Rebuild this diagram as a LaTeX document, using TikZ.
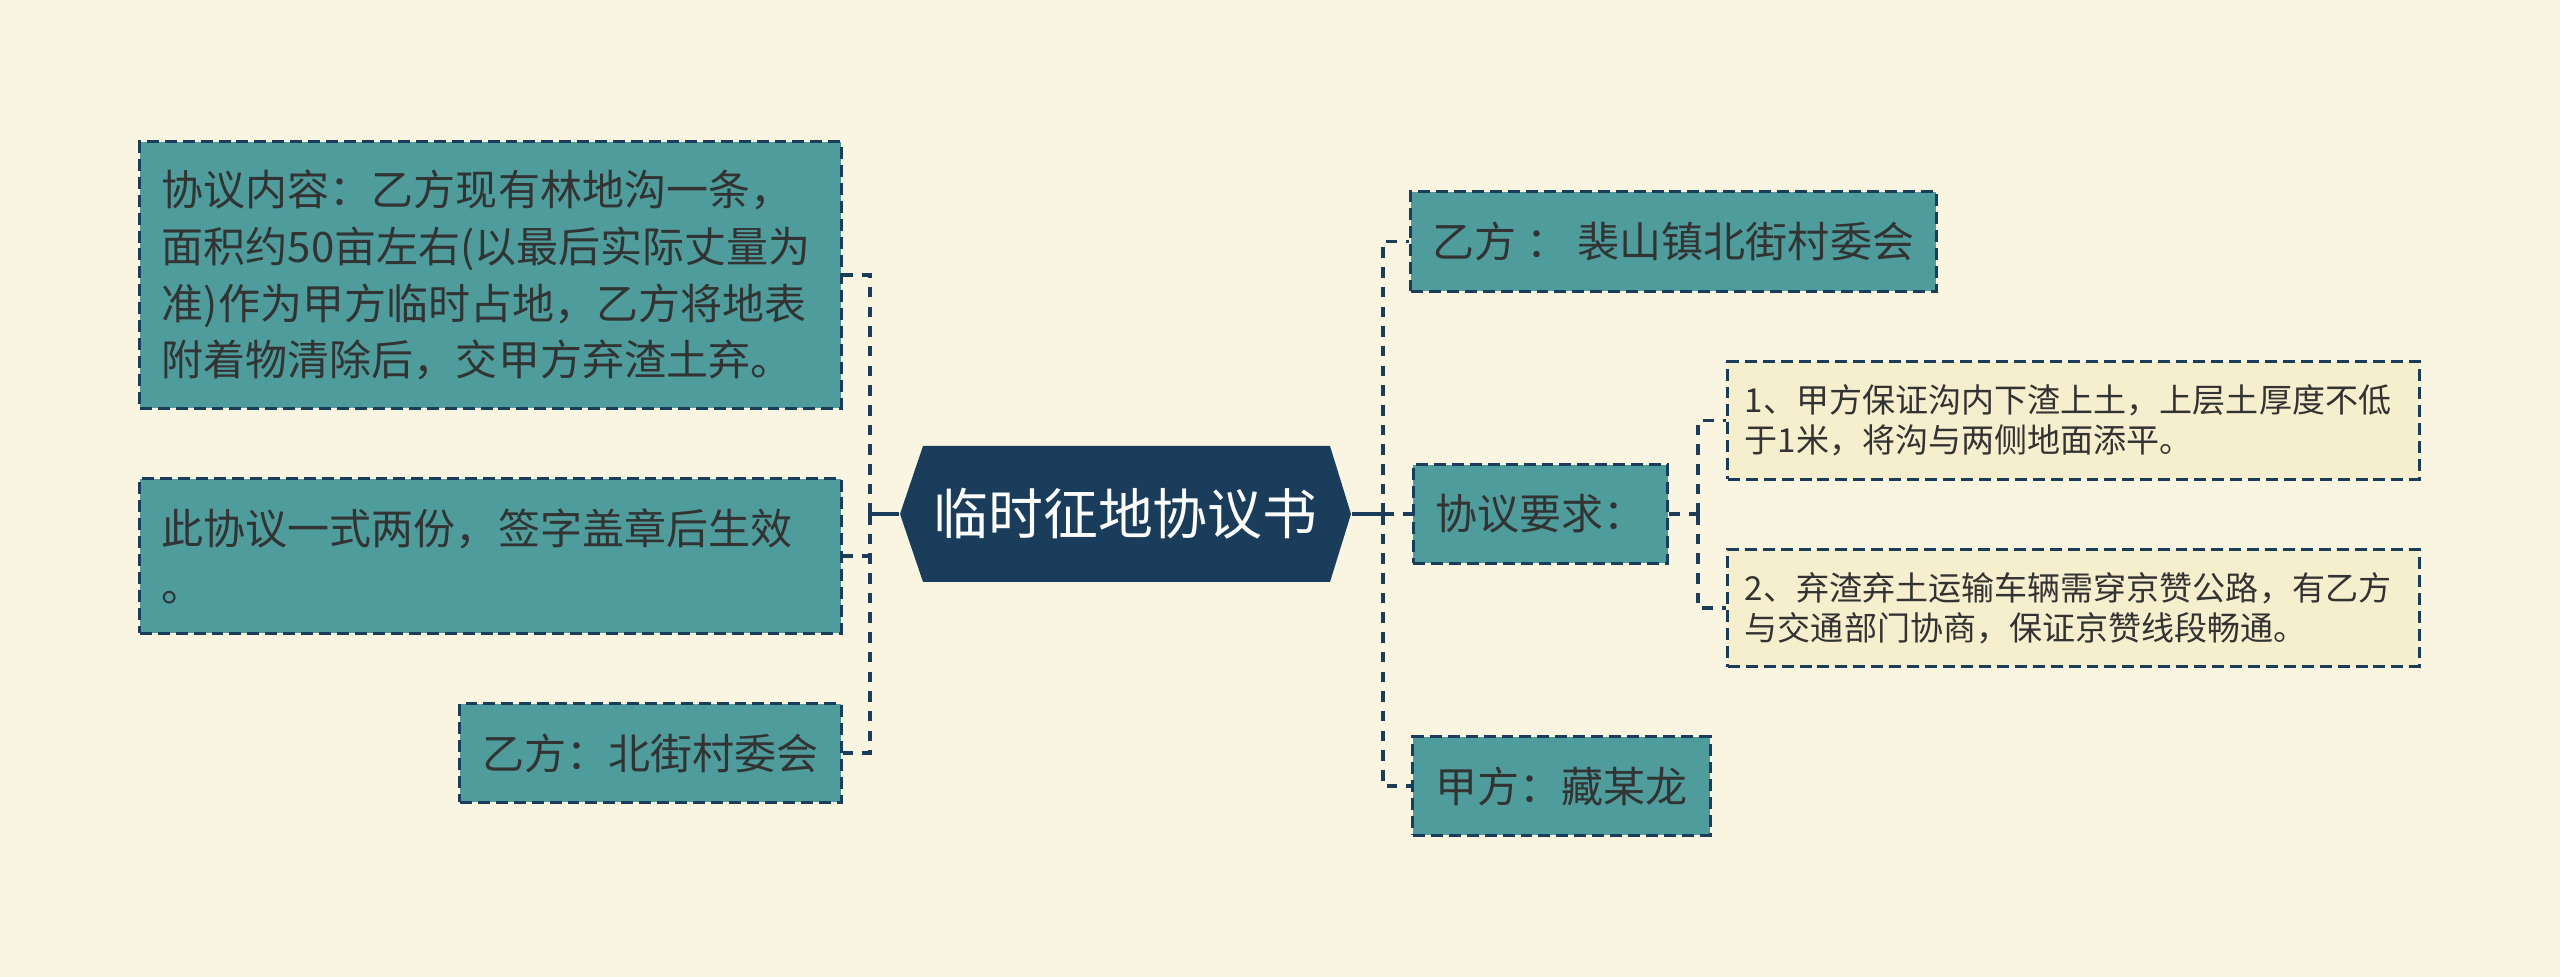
\documentclass[tikz,border=0pt]{standalone}
\usepackage{fontspec}
\setmainfont{Noto Sans CJK SC}
\usepackage{tikz}
\usepackage{xcolor}
\definecolor{bgcream}{HTML}{FAF5E0}
\definecolor{tealbox}{HTML}{4E9C9C}
\definecolor{navy}{HTML}{1B3D5C}
\definecolor{inkgray}{HTML}{333333}
\definecolor{paleleaf}{HTML}{F6EFCD}

\begin{document}
\begin{tikzpicture}[x=0.01cm,y=-0.01cm,
  topicbox/.style={draw=navy,fill=tealbox,line width=0.85pt,dash pattern=on 3.4pt off 1.7pt,
    text=inkgray,inner xsep=0.22cm,inner ysep=0pt,font=\fontsize{11.95pt}{16.2pt}\selectfont},
  notebox/.style={draw=navy,fill=paleleaf,line width=0.85pt,dash pattern=on 3.4pt off 1.7pt,
    text=inkgray,inner xsep=0.17cm,inner ysep=0pt,align=left,text width=6.57cm,
    minimum width=6.91cm,minimum height=1.17cm,font=\fontsize{9.4pt}{11.4pt}\selectfont},
  link/.style={draw=navy,line width=1.1pt,dash pattern=on 3pt off 2.6pt},
  stem/.style={draw=navy,line width=1.1pt}]
\useasboundingbox (0,0) rectangle (2560,977);
\fill[bgcream] (0,0) rectangle (2560,977);
% centre topic
\fill[navy] (900,514) -- (923,446) -- (1330,446) -- (1351,514) -- (1330,582) -- (923,582) -- cycle;
\node[text=white,font=\fontsize{15.6pt}{18pt}\selectfont,minimum width=4.51cm,minimum height=1.36cm,inner sep=0pt]
  (title) at (1125.5,514) {临时征地协议书};
% left branch
\node[topicbox,align=left,text width=6.57cm,minimum width=7.01cm,minimum height=2.66cm] (content) at (490.5,275)
  {协议内容：乙方现有林地沟一条，\\面积约50亩左右(以最后实际丈量为\\准)作为甲方临时占地，乙方将地表\\附着物清除后，交甲方弃渣土弃。};
\node[topicbox,align=left,text width=6.57cm,minimum width=7.01cm,minimum height=1.54cm] (copies) at (490.5,556)
  {此协议一式两份，签字盖章后生效\\。};
\node[topicbox,minimum width=3.81cm,minimum height=0.98cm] (partyyl) at (650.5,753) {乙方：北街村委会};
% right branch
\node[topicbox,minimum width=5.21cm,minimum height=0.99cm] (partyyr) at (1673.5,241.5) {乙方 ： 裴山镇北街村委会};
\node[topicbox,minimum width=2.53cm,minimum height=0.98cm] (demand) at (1540.5,514) {协议要求：};
\node[topicbox,minimum width=2.97cm,minimum height=0.98cm] (partyj) at (1561.5,786) {甲方：藏某龙};
% requirements
\node[notebox] (req1) at (2073.5,420.5) {1、甲方保证沟内下渣上土，上层土厚度不低\\于1米，将沟与两侧地面添平。};
\node[notebox] (req2) at (2073.5,608) {2、弃渣弃土运输车辆需穿京赞公路，有乙方\\与交通部门协商，保证京赞线段畅通。};
% connectors
\coordinate (lj) at (870,514);
\coordinate (rj) at (1383,514);
\coordinate (sj) at (1698,514);
\draw[stem] (title.west) -- (lj);
\draw[stem] (title.east) -- (rj);
\draw[link] (lj) |- (content.east);
\draw[link] (lj) |- (copies.east);
\draw[link] (lj) |- (partyyl.east);
\draw[link] (rj) |- (partyyr.west);
\draw[link] (rj) -- (demand.west);
\draw[link] (rj) |- (partyj.west);
\draw[link] (demand.east) -- (sj);
\draw[link] (sj) |- (req1.west);
\draw[link] (sj) |- (req2.west);
\end{tikzpicture}
\end{document}
